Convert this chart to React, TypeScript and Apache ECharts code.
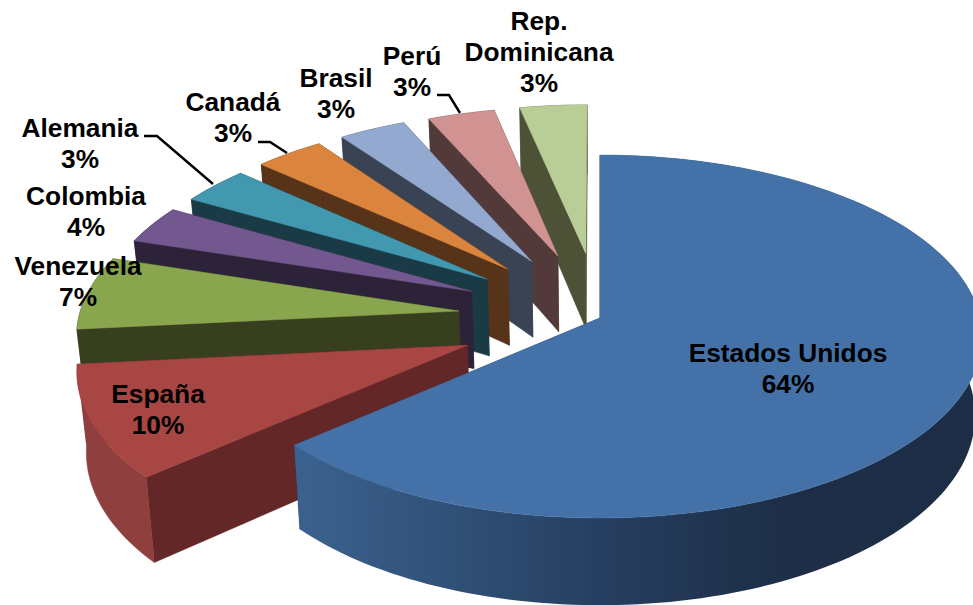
import React, { useEffect, useRef } from "react";
import * as echarts from "echarts";

// ---- data ----
const categories = ["Estados Unidos", "España", "Venezuela", "Colombia", "Alemania", "Canadá", "Brasil", "Perú", "Rep. Dominicana"];
const sliceValues = [63.5, 9.9, 6.5, 3.4, 3.4, 3.4, 3.3, 3.3, 3.3];
const percentLabels = ["64%", "10%", "7%", "4%", "3%", "3%", "3%", "3%", "3%"];
const exploded = [0, 1, 1, 1, 1, 1, 1, 1, 1];

// ---- styling ----
const radiusScale = [1, 1.002, 1, 0.985, 0.98, 0.98, 0.98, 0.975, 0.977];
const topColors = ["#4472A8", "#A84644", "#89A54E", "#72588F", "#4198AF", "#DB843D", "#93A9CF", "#D19392", "#B9CD96"];
const cutColors = ["#2A4568", "#622726", "#373F1F", "#2D2339", "#1A3B46", "#57331A", "#394353", "#533A3A", "#4D5237"];
const outerColors = ["#1D2E46", "#8F3F3D", "#373F1F", "#2D2339", "#1A3B46", "#57331A", "#394353", "#533A3A", "#4D5237"];

const labelLayout = [
  { x: 788, lines: ["Estados Unidos"], y: 353 },
  { x: 158, lines: ["España"], y: 394 },
  { x: 78, lines: ["Venezuela"], y: 266 },
  { x: 86, lines: ["Colombia"], y: 196 },
  { x: 80, lines: ["Alemania"], y: 128 },
  { x: 233, lines: ["Canadá"], y: 102 },
  { x: 336, lines: ["Brasil"], y: 78 },
  { x: 412, lines: ["Perú"], y: 56 },
  { x: 539, lines: ["Rep.", "Dominicana"], y: 21 },
];
const leaderLines = [
  [[144, 136], [157, 136], [213, 184]],
  [[258, 142], [270, 142], [287, 153]],
  [[437, 95], [449, 95], [460, 113]],
];

// ---- 3D projection of the pie ----
const CX = 600, CY = 318, A = 380, K = 179.6, P = 0.102, DEPTH = 78.3, SHRINK = 0.982, EXPLODE = 0.375;
const total = sliceValues.reduce((a, b) => a + b, 0);

function project(u: number, v: number, bottom: boolean): number[] {
  const s = 1 / (1 - P * v);
  const x = A * u * s;
  const y = K * v * s;
  return bottom ? [CX + x * SHRINK, CY + y + DEPTH * s] : [CX + x, CY + y];
}

function renderSlice(params: any) {
  const i = params.dataIndex;
  let before = 0;
  for (let k = 0; k < i; k++) before += sliceValues[k];
  const a0 = (before / total) * Math.PI * 2;
  const a1 = ((before + sliceValues[i]) / total) * Math.PI * 2;
  const mid = (a0 + a1) / 2;
  const ou = exploded[i] * EXPLODE * Math.sin(mid);
  const ov = -exploded[i] * EXPLODE * Math.cos(mid);
  const r = radiusScale[i];
  const steps = Math.max(4, Math.ceil((a1 - a0) / (Math.PI / 120)));
  const arcTop: number[][] = [];
  const arcBot: number[][] = [];
  for (let s = 0; s <= steps; s++) {
    const t = a0 + ((a1 - a0) * s) / steps;
    const u = ou + r * Math.sin(t);
    const v = ov - r * Math.cos(t);
    arcTop.push(project(u, v, false));
    arcBot.push(project(u, v, true));
  }
  const apexTop = project(ou, ov, false);
  const apexBot = project(ou, ov, true);
  const z = (9 - i) * 10;
  const poly = (points: number[][], fill: any, k: number) => ({
    type: "polygon",
    z2: z + k,
    silent: true,
    shape: { points },
    style: { fill, stroke: typeof fill === "string" ? fill : undefined, lineWidth: typeof fill === "string" ? 0.5 : 0 },
  });
  const outerFill: any =
    i === 0
      ? {
          type: "linear", x: 0, y: 0, x2: 1, y2: 0,
          colorStops: [
            { offset: 0, color: "#3B628F" },
            { offset: 0.47, color: "#253D5E" },
            { offset: 0.72, color: "#1D2E46" },
            { offset: 1, color: "#1C2D45" },
          ],
        }
      : outerColors[i];
  const children = [
    poly([apexTop, arcTop[steps], arcBot[steps], apexBot], cutColors[i], 0),
    poly([apexTop, arcTop[0], arcBot[0], apexBot], cutColors[i], 1),
    poly([...arcTop, ...arcBot.slice().reverse()], outerFill, 2),
    poly([apexTop, ...arcTop], topColors[i], 3),
  ];
  return { type: "group", children };
}

export default function App() {
  const ref = useRef<HTMLDivElement>(null);
  useEffect(() => {
    document.body.style.margin = "0";
    const chart = echarts.init(ref.current!, undefined, { renderer: "svg" });
    const textFont = { fontFamily: "'Liberation Sans', Arial, sans-serif", fontWeight: "bold", fontSize: 26.3, fill: "#000" };
    const labels: any[] = [];
    labelLayout.forEach((l, i) => {
      [...l.lines, percentLabels[i]].forEach((line, n) => {
        labels.push({
          type: "text",
          x: l.x,
          y: l.y + n * 31,
          z: 20,
          silent: true,
          style: { ...textFont, text: line, align: "center", verticalAlign: "middle" },
        });
      });
    });
    const lines = leaderLines.map((points) => ({
      type: "polyline",
      z: 19,
      silent: true,
      shape: { points },
      style: { stroke: "#000", lineWidth: 2.4, fill: "none" },
    }));
    chart.setOption({
      animation: false,
      backgroundColor: "#fff",
      series: [
        {
          type: "custom",
          coordinateSystem: "none",
          renderItem: renderSlice,
          silent: true,
          data: sliceValues.map((value, i) => ({ name: categories[i], value })),
        },
      ],
      graphic: { elements: [...lines, ...labels] },
    });
    return () => chart.dispose();
  }, []);
  return <div ref={ref} style={{ width: 973, height: 605 }} />;
}
